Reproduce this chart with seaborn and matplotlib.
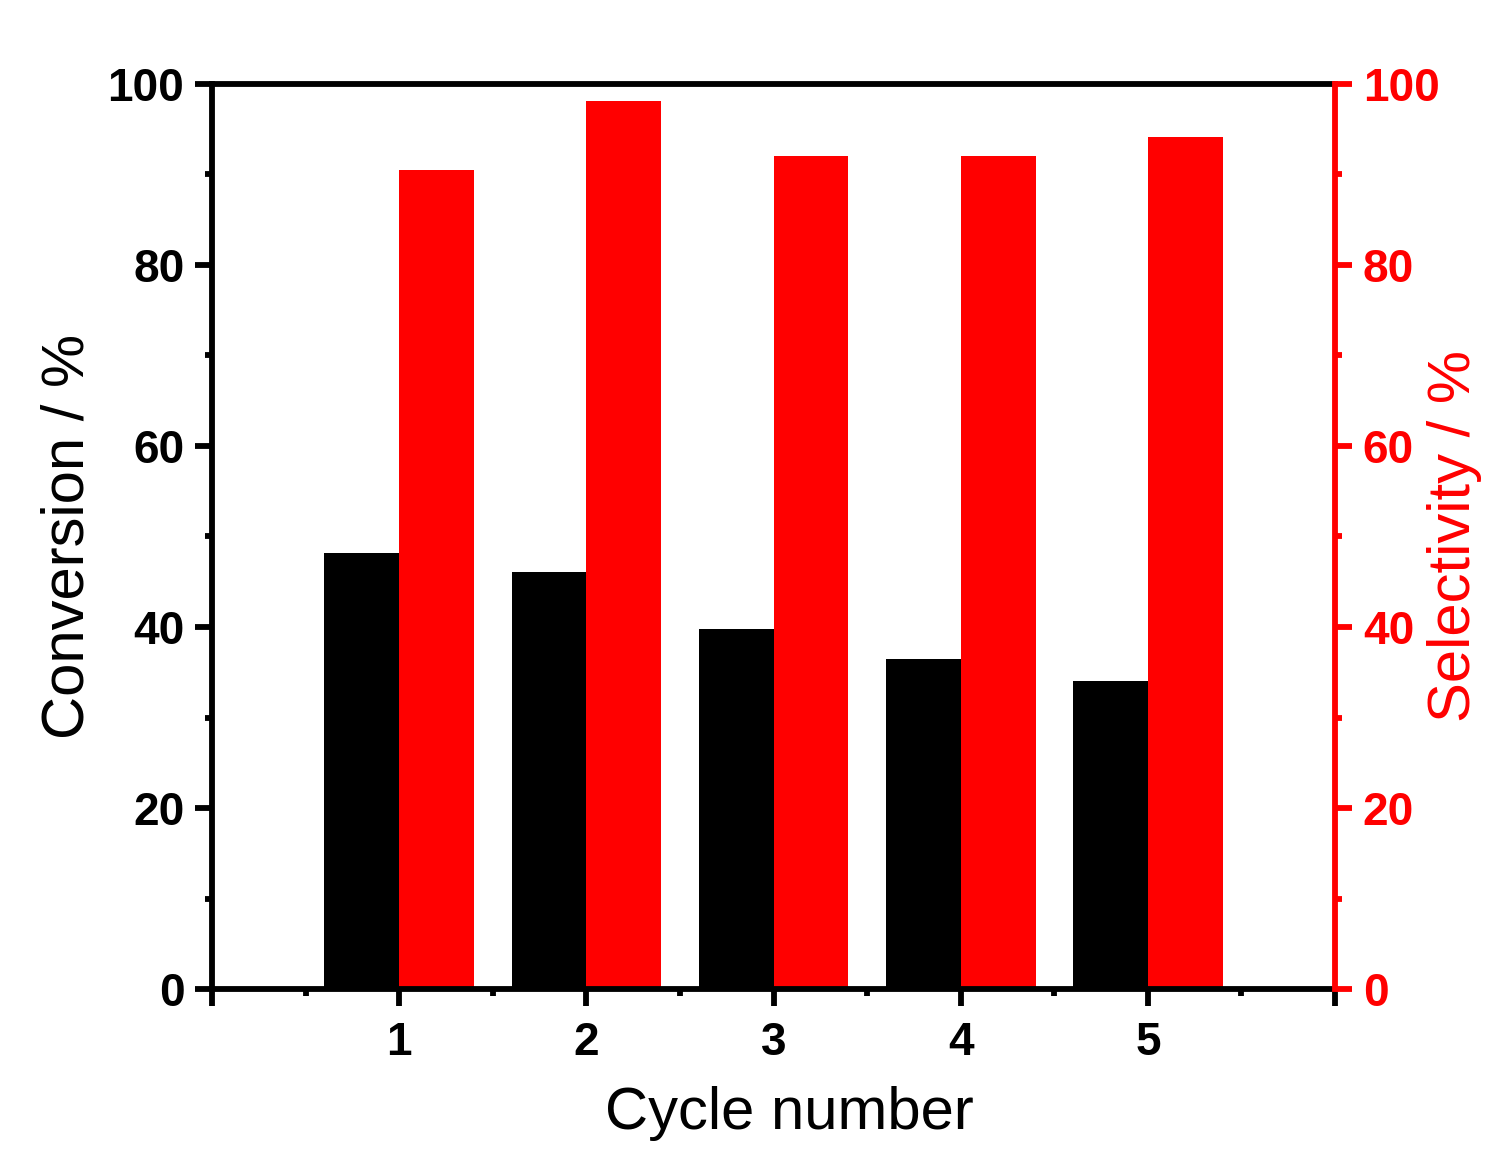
import pandas as pd
import numpy as np
import matplotlib
matplotlib.use('Agg')
import matplotlib.pyplot as plt
import seaborn as sns
from matplotlib.ticker import MultipleLocator, FixedLocator

# data
cycles = [1, 2, 3, 4, 5]
conversion = [48.2, 46.1, 39.8, 36.5, 34.0]
selectivity = [90.5, 98.1, 92.0, 92.0, 94.1]
series_names = ['Conversion', 'Selectivity']
series_colors = ['#000000', '#ff0000']

df = pd.DataFrame({
    'cycle': cycles * 2,
    'value': conversion + selectivity,
    'series': [series_names[0]] * len(cycles) + [series_names[1]] * len(cycles),
})

sns.set_style('ticks')
plt.rcParams['font.family'] = ['Liberation Sans', 'DejaVu Sans']
plt.rcParams.update({'text.color': 'black', 'axes.labelcolor': 'black',
                     'xtick.color': 'black', 'ytick.color': 'black'})

fig = plt.figure(figsize=(15.06, 11.61), dpi=100)
ax = fig.add_axes([0.1408, 0.1481, 0.7457, 0.7796])

sns.barplot(data=df, x='cycle', y='value', hue='series', native_scale=True,
            palette=series_colors, saturation=1, width=0.8, gap=0,
            linewidth=0, legend=False, ax=ax, zorder=1)

lw = 4.2
ax.set_xlim(0, 6)
ax.set_ylim(0, 100)
ax.xaxis.set_major_locator(FixedLocator([0, 1, 2, 3, 4, 5, 6]))
ax.set_xticklabels(['', '1', '2', '3', '4', '5', ''])
ax.xaxis.set_minor_locator(MultipleLocator(0.5))
ax.yaxis.set_major_locator(MultipleLocator(20))
ax.yaxis.set_minor_locator(MultipleLocator(10))

for s in ['left', 'bottom', 'top']:
    ax.spines[s].set_linewidth(lw)
    ax.spines[s].set_color('black')
ax.spines['right'].set_visible(False)

ax.tick_params(axis='both', which='major', direction='out', length=12,
               width=lw, labelsize=33, pad=8)
ax.tick_params(axis='x', which='major', pad=11)
ax.tick_params(axis='both', which='minor', direction='out', length=5, width=lw)
ax.tick_params(top=False, right=False, which='both')
for lab in ax.get_xticklabels() + ax.get_yticklabels():
    lab.set_fontweight('bold')

ax.set_xlabel('Cycle number', fontsize=43, labelpad=15)
ax.xaxis.label.set_x(0.514)
ax.set_ylabel('Conversion / %', fontsize=43, labelpad=9)

# right axis for selectivity scale
ax2 = ax.twinx()
ax2.set_ylim(0, 100)
ax2.yaxis.set_major_locator(MultipleLocator(20))
ax2.yaxis.set_minor_locator(MultipleLocator(10))
for s in ['left', 'bottom', 'top']:
    ax2.spines[s].set_visible(False)
ax2.spines['right'].set_linewidth(lw)
ax2.spines['right'].set_color('#ff0000')
ax2.tick_params(axis='y', which='major', direction='out', length=12, width=lw,
                labelsize=33, pad=8, colors='#ff0000')
ax2.tick_params(axis='y', which='minor', direction='out', length=5, width=lw,
                colors='#ff0000')
for lab in ax2.get_yticklabels():
    lab.set_fontweight('bold')
ax2.set_ylabel('Selectivity / %', fontsize=43, color='#ff0000', labelpad=-9)

fig.savefig('out.png', dpi=100)
